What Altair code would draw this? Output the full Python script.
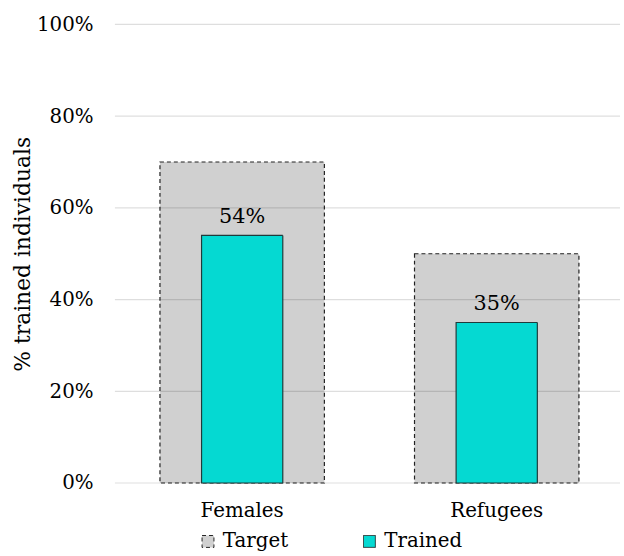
import altair as alt
import pandas as pd

# Share of trained individuals versus the target, per group
groups = ["Females", "Refugees"]
target = [0.70, 0.50]
trained = [0.54, 0.35]
y_ticks = [0.0, 0.2, 0.4, 0.6, 0.8, 1.0]

series_names = ["Target", "Trained"]
series_colors = ["#d0d0d0", "#05d9d2"]
series_dash = [[4, 3], [1, 0]]

rows = []
for g, t, r in zip(groups, target, trained):
    rows.append({"group": g, "series": "Target", "value": t})
    rows.append({"group": g, "series": "Trained", "value": r})
df = pd.DataFrame(rows)
grid_df = pd.DataFrame({"tick": y_ticks})

FONT = "DejaVu Serif"
W, H = 510, 463

x_enc = alt.X(
    "group:N",
    sort=groups,
    scale=alt.Scale(domain=groups, range=[0, 514], paddingInner=0, paddingOuter=0),
    axis=alt.Axis(title=None, labelAngle=0, ticks=False, domain=False,
                  labelPadding=18, labelFontSize=20, labelFont=FONT,
                  labelColor="#000000"),
)
y_scale = alt.Scale(domain=[0, 1], nice=False)
y_enc = alt.Y(
    "value:Q",
    scale=y_scale,
    axis=alt.Axis(title="% trained individuals", format=".0%", values=y_ticks,
                  grid=False, ticks=False, domain=False, labelPadding=22,
                  labelFontSize=20, labelFont=FONT, labelColor="#000000",
                  titleFont=FONT, titleFontSize=22, titleFontWeight="normal",
                  titleColor="#000000", titlePadding=2),
)
color_enc = alt.Color(
    "series:N",
    scale=alt.Scale(domain=series_names, range=series_colors),
    legend=alt.Legend(title=None, orient="none", direction="horizontal",
                      legendX=84, legendY=512, labelFont=FONT, labelFontSize=20,
                      labelColor="#000000", symbolType="square", symbolSize=144,
                      symbolStrokeColor="#222222", symbolStrokeWidth=1,
                      columnPadding=72, labelOffset=5),
)
dash_enc = alt.StrokeDash(
    "series:N",
    scale=alt.Scale(domain=series_names, range=series_dash),
    legend=None,
)

base = alt.Chart(df)

target_bars = base.transform_filter(alt.datum.series == "Target").mark_bar(
    size=166, stroke="#222222", strokeWidth=1.2
).encode(x=x_enc, y=y_enc, color=color_enc, strokeDash=dash_enc)

grid = alt.Chart(grid_df).mark_rule(color="#000000", opacity=0.13, strokeWidth=1.2).encode(
    y=alt.Y("tick:Q", scale=y_scale)
)

trained_bars = base.transform_filter(alt.datum.series == "Trained").mark_bar(
    size=82, stroke="#1f3b3b", strokeWidth=1.2
).encode(x=x_enc, y=y_enc, color=color_enc, strokeDash=dash_enc)

labels = base.transform_filter(alt.datum.series == "Trained").mark_text(
    baseline="bottom", dy=-9, font=FONT, fontSize=21, color="#000000"
).encode(x=x_enc, y=y_enc, text=alt.Text("value:Q", format=".0%"))

chart = (
    alt.layer(target_bars, grid, trained_bars, labels)
    .properties(width=W, height=H, background="#ffffff",
                padding={"left": 11, "top": 12, "right": 0, "bottom": 0})
    .configure_view(stroke=None)
)

chart.save("out.html", embed_options={"renderer": "svg", "actions": False})
